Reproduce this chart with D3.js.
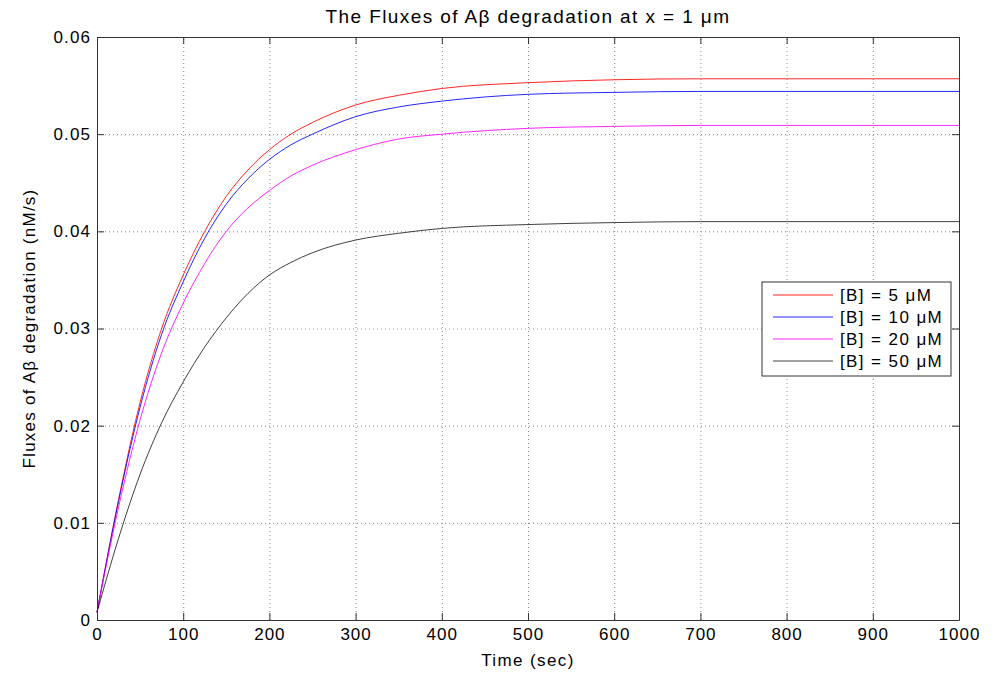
<!DOCTYPE html>
<html>
<head>
<meta charset="utf-8">
<script src="https://cdn.jsdelivr.net/npm/d3@7"></script>
<style>
  body { margin: 0; background: #fff; }
  svg text { font-family: "Liberation Sans", Arial, Helvetica, sans-serif; fill: #000; }
  .grid line { stroke: #888; stroke-dasharray: 1 3; stroke-width: 1; }
  .grid path { display: none; }
  .axis path, .axis line { stroke: #333; }
</style>
</head>
<body>
<div id="chart"></div>
<script>
// time points (sec)
const times = [0, 25, 50, 75, 100, 125, 150, 175, 200, 225, 250, 300, 350, 400, 500, 600, 700, 800, 900, 1000];

// fluxes (nM/s) for each [B]
const flux5 = [0.0008, 0.0124, 0.0224, 0.0300, 0.0355, 0.0400, 0.0436, 0.0463, 0.0484, 0.0500, 0.0512, 0.0530, 0.0540, 0.0547, 0.0553, 0.0556, 0.0557, 0.0557, 0.0557, 0.0557];
const flux10 = [0.0008, 0.0122, 0.0219, 0.0294, 0.0348, 0.0393, 0.0428, 0.0454, 0.0474, 0.0489, 0.0500, 0.0518, 0.0528, 0.0534, 0.0541, 0.0543, 0.0544, 0.0544, 0.0544, 0.0544];
const flux20 = [0.0008, 0.0116, 0.0206, 0.0275, 0.0326, 0.0367, 0.0400, 0.0424, 0.0442, 0.0457, 0.0468, 0.0484, 0.0495, 0.0500, 0.0506, 0.0508, 0.0509, 0.0509, 0.0509, 0.0509];
const flux50 = [0.0008, 0.0084, 0.0150, 0.0203, 0.0245, 0.0281, 0.0311, 0.0336, 0.0355, 0.0368, 0.0378, 0.0391, 0.0398, 0.0403, 0.0407, 0.0409, 0.0410, 0.0410, 0.0410, 0.0410];

const seriesNames = ["[B] = 5 μM", "[B] = 10 μM", "[B] = 20 μM", "[B] = 50 μM"];
const seriesColors = ["#ff0000", "#0000ff", "#ff00ff", "#000000"];

const xTicks = [0, 100, 200, 300, 400, 500, 600, 700, 800, 900, 1000];
const yTicks = [0, 0.01, 0.02, 0.03, 0.04, 0.05, 0.06];

const width = 994;
const height = 674;
const margin = { top: 37, right: 35, bottom: 54, left: 97 };
const innerWidth = width - margin.left - margin.right;
const innerHeight = height - margin.top - margin.bottom;

const svg = d3.select("#chart").append("svg")
  .attr("width", width)
  .attr("height", height);

const g = svg.append("g").attr("transform", `translate(${margin.left},${margin.top})`);

const x = d3.scaleLinear().domain([0, 1000]).range([0, innerWidth]);
const y = d3.scaleLinear().domain([0, 0.06]).range([innerHeight, 0]);

// dotted grid
g.append("g").attr("class", "grid")
  .call(d3.axisLeft(y).tickValues(yTicks.slice(1, -1)).tickSize(-innerWidth).tickFormat(""));
g.append("g").attr("class", "grid")
  .attr("transform", `translate(0,${innerHeight})`)
  .call(d3.axisBottom(x).tickValues(xTicks.slice(1, -1)).tickSize(-innerHeight).tickFormat(""));
g.selectAll(".grid text").remove();

// lines
const allSeries = [flux5, flux10, flux20, flux50];
const line = d3.line()
  .curve(d3.curveMonotoneX)
  .x((d, i) => x(times[i]))
  .y((d) => y(d));

allSeries.forEach((vals, i) => {
  g.append("path")
    .datum(vals)
    .attr("fill", "none")
    .attr("stroke", seriesColors[i])
    .attr("stroke-width", 1)
    .attr("stroke-opacity", i === 3 ? 0.75 : 0.85)
    .attr("d", line);
});

// axes with inward ticks on all four sides
const fmtY = (d) => (d === 0 ? "0" : d3.format(".2f")(d));
const tickLen = 7;

const xBottom = g.append("g").attr("class", "axis")
  .attr("transform", `translate(0,${innerHeight})`)
  .call(d3.axisBottom(x).tickValues(xTicks).tickSizeInner(-tickLen).tickSizeOuter(0).tickPadding(8).tickFormat(d3.format("d")));
xBottom.selectAll("text").attr("font-size", 17).attr("letter-spacing", 1);

const xTop = g.append("g").attr("class", "axis")
  .call(d3.axisTop(x).tickValues(xTicks).tickSizeInner(-tickLen).tickSizeOuter(0).tickFormat(""));
xTop.selectAll("text").remove();

const yLeft = g.append("g").attr("class", "axis")
  .call(d3.axisLeft(y).tickValues(yTicks).tickSizeInner(-tickLen).tickSizeOuter(0).tickPadding(6).tickFormat(fmtY));
yLeft.selectAll("text").attr("font-size", 17).attr("letter-spacing", 1.1);

const yRight = g.append("g").attr("class", "axis")
  .attr("transform", `translate(${innerWidth},0)`)
  .call(d3.axisRight(y).tickValues(yTicks).tickSizeInner(-tickLen).tickSizeOuter(0).tickFormat(""));
yRight.selectAll("text").remove();

// titles
svg.append("text")
  .attr("x", margin.left + innerWidth / 2)
  .attr("y", 23)
  .attr("text-anchor", "middle")
  .attr("font-size", 19)
  .attr("letter-spacing", 1.4)
  .text("The Fluxes of Aβ degradation at x = 1 μm");

svg.append("text")
  .attr("x", margin.left + innerWidth / 2)
  .attr("y", 666)
  .attr("text-anchor", "middle")
  .attr("font-size", 17)
  .attr("letter-spacing", 1.4)
  .text("Time (sec)");

svg.append("text")
  .attr("transform", `translate(35,${margin.top + innerHeight / 2}) rotate(-90)`)
  .attr("text-anchor", "middle")
  .attr("font-size", 17)
  .attr("letter-spacing", 1.25)
  .text("Fluxes of Aβ degradation (nM/s)");

// legend
const legend = svg.append("g").attr("transform", "translate(762,282)");
legend.append("rect")
  .attr("width", 189)
  .attr("height", 94)
  .attr("fill", "#fff")
  .attr("stroke", "#333");

seriesNames.forEach((name, i) => {
  const rowY = 13 + i * 22;
  legend.append("line")
    .attr("x1", 11).attr("x2", 71)
    .attr("y1", rowY).attr("y2", rowY)
    .attr("stroke", seriesColors[i])
    .attr("stroke-opacity", i === 3 ? 0.75 : 0.85);
  legend.append("text")
    .attr("x", 78)
    .attr("y", rowY + 6)
    .attr("font-size", 17)
    .attr("letter-spacing", 1.4)
    .text(name);
});
</script>
</body>
</html>
